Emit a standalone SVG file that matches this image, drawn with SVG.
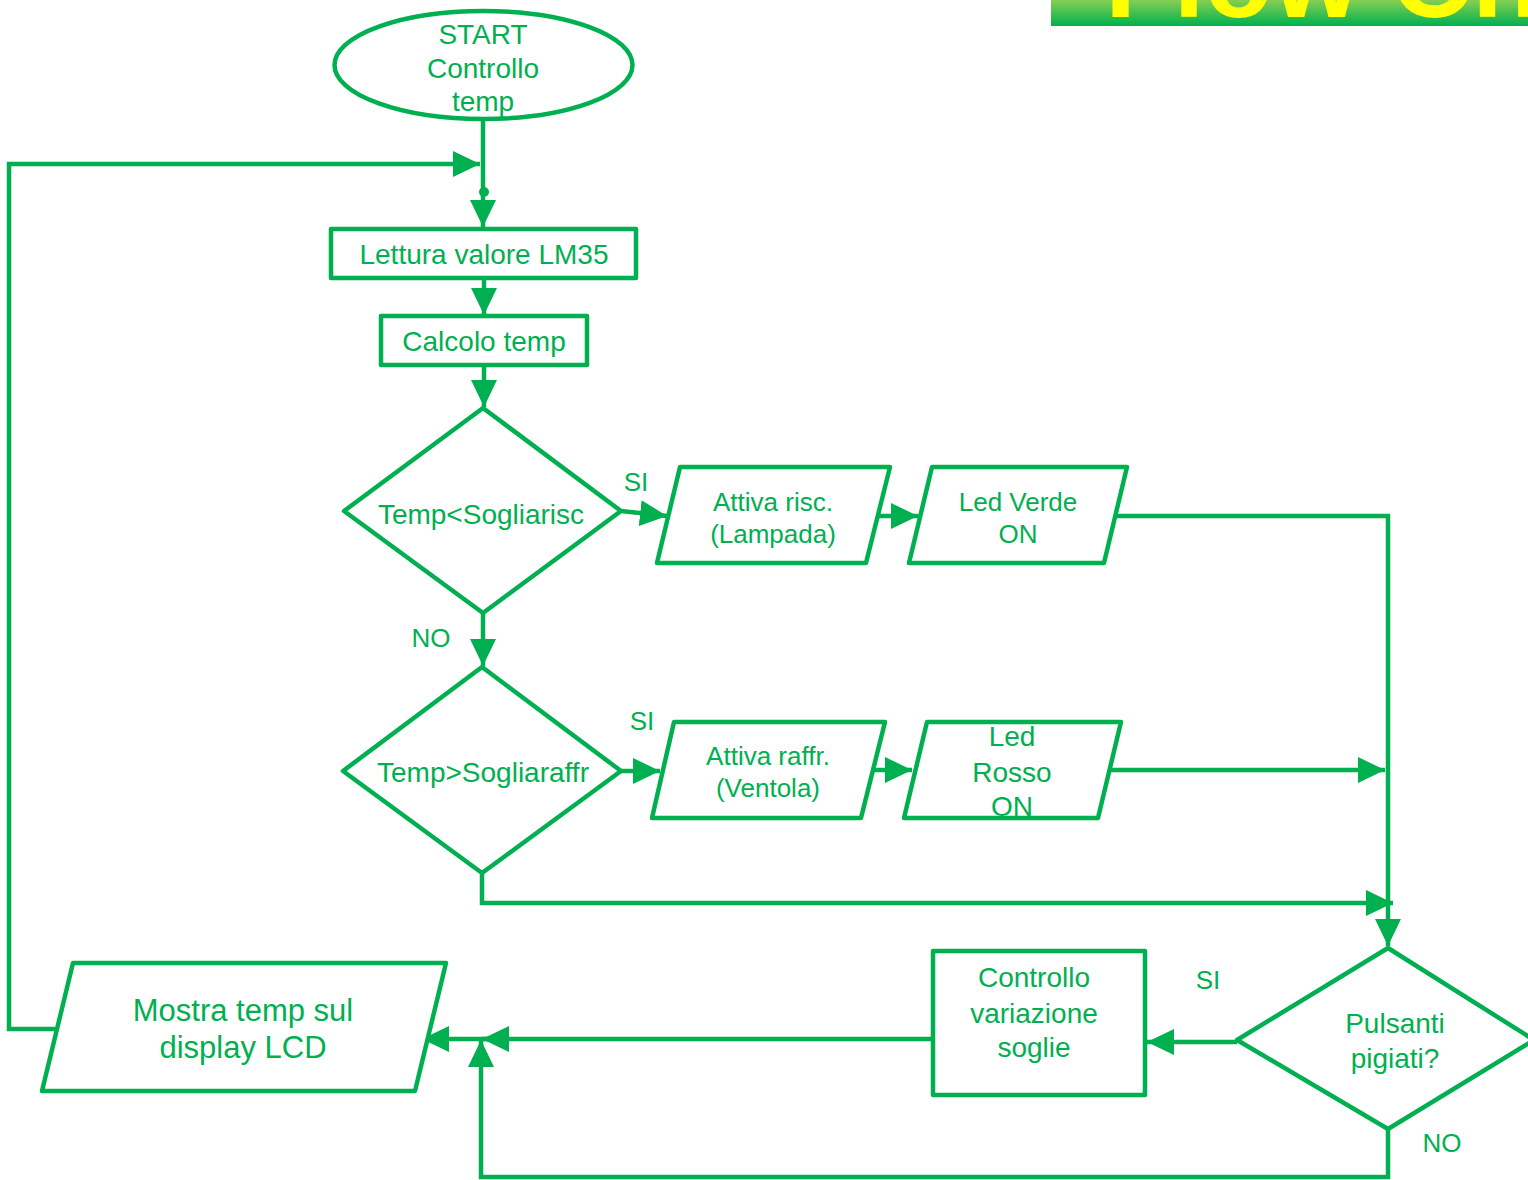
<svg xmlns="http://www.w3.org/2000/svg" width="1528" height="1180" viewBox="0 0 1528 1180">
<style>
.s{fill:#fff;stroke:#00b050;stroke-width:4.5;stroke-linejoin:round}
.c{fill:none;stroke:#00b050;stroke-width:4.5}
text{font-family:"Liberation Sans",Arial,sans-serif;fill:#00b050;text-anchor:middle}
.t28{font-size:28px}
.t26{font-size:26px}
.t31{font-size:31px}
</style>
<defs>
<linearGradient id="g" x1="0" y1="0" x2="0" y2="1">
<stop offset="0" stop-color="#86cf52"/>
<stop offset="1" stop-color="#00b050"/>
</linearGradient>
<marker id="a" markerUnits="userSpaceOnUse" markerWidth="27" markerHeight="26" refX="27" refY="13" orient="auto">
<path d="M0,0 L27,13 L0,26 z" fill="#00b050"/>
</marker>
</defs>
<rect width="1528" height="1180" fill="#fff"/>
<g id="title">
<rect x="1051" y="0" width="477" height="26" fill="url(#g)"/>
<text x="1105" y="17" style="font-size:112px;font-weight:bold;fill:#ffff00;text-anchor:start">Flow Chart</text>
</g>
<g id="connectors">
<path class="c" d="M483,120 V227" marker-end="url(#a)"/>
<circle cx="484" cy="192" r="5" fill="#00b050"/>
<path class="c" d="M55,1029 H9 V164 H480" marker-end="url(#a)"/>
<path class="c" d="M484,278 V315" marker-end="url(#a)"/>
<path class="c" d="M484,365 V407" marker-end="url(#a)"/>
<path class="c" d="M621,511 L667,516" marker-end="url(#a)"/>
<path class="c" d="M878,516 H918" marker-end="url(#a)"/>
<path class="c" d="M1116,516 H1388 V946" marker-end="url(#a)"/>
<path class="c" d="M483,613 V666" marker-end="url(#a)"/>
<path class="c" d="M621,771 H660" marker-end="url(#a)"/>
<path class="c" d="M873,770 H912" marker-end="url(#a)"/>
<path class="c" d="M1110,770 H1385" marker-end="url(#a)"/>
<path class="c" d="M482,873 V903 H1393" marker-end="url(#a)"/>
<path class="c" d="M1237,1042 H1147" marker-end="url(#a)"/>
<path class="c" d="M933,1039 H482" marker-end="url(#a)"/>
<path class="c" d="M490,1039 H422" marker-end="url(#a)"/>
<path class="c" d="M1388,1129 V1177 H481 V1040" marker-end="url(#a)"/>
</g>
<g id="start">
<ellipse class="s" cx="483.5" cy="65" rx="149" ry="54"/>
<text class="t28" x="483" y="44">START</text>
<text class="t28" x="483" y="78">Controllo</text>
<text class="t28" x="483" y="111">temp</text>
</g>
<g id="lettura">
<rect class="s" x="331" y="229" width="305" height="49"/>
<text class="t28" x="484" y="264">Lettura valore LM35</text>
</g>
<g id="calcolo">
<rect class="s" x="381" y="316" width="206" height="49"/>
<text class="t28" x="484" y="351">Calcolo temp</text>
</g>
<g id="dec1">
<polygon class="s" points="483,408 621,511 483,613 344,511"/>
<text class="t28" x="481" y="524">Temp&lt;Sogliarisc</text>
</g>
<g id="risc">
<polygon class="s" points="680,467 890,467 866,563 657,563"/>
<text class="t26" x="773" y="511">Attiva risc.</text>
<text class="t26" x="773" y="543">(Lampada)</text>
</g>
<g id="verde">
<polygon class="s" points="932,467 1127,467 1104,563 909,563"/>
<text class="t26" x="1018" y="511">Led Verde</text>
<text class="t26" x="1018" y="543">ON</text>
</g>
<g id="dec2">
<polygon class="s" points="482,667 621,771 482,873 343,771"/>
<text class="t28" x="483" y="782">Temp&gt;Sogliaraffr</text>
</g>
<g id="raffr">
<polygon class="s" points="674,722 885,722 861,818 652,818"/>
<text class="t26" x="768" y="765">Attiva raffr.</text>
<text class="t26" x="768" y="797">(Ventola)</text>
</g>
<g id="rosso">
<polygon class="s" points="927,722 1121,722 1098,818 904,818"/>
<text class="t28" x="1012" y="746">Led</text>
<text class="t28" x="1012" y="782">Rosso</text>
<text class="t28" x="1012" y="816">ON</text>
</g>
<g id="pulsanti">
<polygon class="s" points="1388,948 1534,1040 1388,1129 1237,1040"/>
<text class="t28" x="1395" y="1033">Pulsanti</text>
<text class="t28" x="1395" y="1068">pigiati?</text>
</g>
<g id="controllo">
<rect class="s" x="933" y="951" width="212" height="144"/>
<text class="t28" x="1034" y="987">Controllo</text>
<text class="t28" x="1034" y="1023">variazione</text>
<text class="t28" x="1034" y="1057">soglie</text>
</g>
<g id="mostra">
<polygon class="s" points="73,963 446,963 415,1091 42,1091"/>
<text class="t31" x="243" y="1021">Mostra temp sul</text>
<text class="t31" x="243" y="1058">display LCD</text>
</g>
<g id="labels">
<text class="t26" x="636" y="491">SI</text>
<text class="t26" x="431" y="647">NO</text>
<text class="t26" x="642" y="730">SI</text>
<text class="t26" x="1208" y="989">SI</text>
<text class="t26" x="1442" y="1152">NO</text>
</g>
</svg>
